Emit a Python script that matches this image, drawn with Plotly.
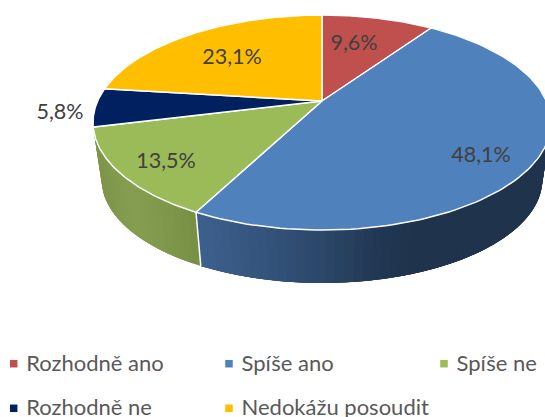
import numpy as np
import plotly.graph_objects as go

# --- data ---
categories = ["Rozhodně ano", "Spíše ano", "Spíše ne", "Rozhodně ne", "Nedokážu posoudit"]
values = [9.6, 48.1, 13.5, 5.8, 23.1]
value_labels = ["9,6%", "48,1%", "13,5%", "5,8%", "23,1%"]
colors = ["#C0504D", "#4F81BD", "#9BBB59", "#002060", "#FFBF00"]

# --- layout of the pseudo-3D pie (pixels on a 545x417 axis) ---
CX, CY = 322.0, 101.0
A, B, K = 224.4, 103.2, 0.2      # perspective projection of the disc
WALL_SCALE, WALL_SHIFT = 0.962, 57.9
label_x = [354, 481, 166, 60, 232]
label_y = [45, 157, 163, 114, 59]
legend_x = [13.7, 229, 444, 13.7, 229]
legend_y = [363.7, 363.7, 363.7, 408.3, 408.3]

wall_stops = {
    1: ([202, 260, 320, 380, 420, 545],
        [(61, 95, 140), (52, 84, 125), (44, 72, 106), (33, 55, 82), (31, 51, 76), (31, 51, 76)]),
    2: ([100, 130, 160, 200],
        [(126, 150, 75), (133, 158, 80), (128, 152, 76), (118, 142, 66)]),
}


def project(t_deg, r=1.0):
    t = np.radians(t_deg)
    u, v = r * np.sin(t), r * np.cos(t)
    d = 1 + K * v
    return A * u / d, B * v / d


def top_xy(t_deg):
    x, y = project(t_deg)
    return CX + x, CY - y


def bottom_xy(t_deg):
    x, y = project(t_deg)
    return CX + WALL_SCALE * x, CY - WALL_SCALE * y + WALL_SHIFT


def wall_color(i, x):
    xs, cs = wall_stops[i]
    rgb = [np.interp(x, xs, [c[k] for c in cs]) for k in range(3)]
    return "rgb(%d,%d,%d)" % tuple(int(round(c)) for c in rgb)


fig = go.Figure()
total = sum(values)
edges = np.concatenate([[0], np.cumsum(values)]) / total * 360

# side wall: overlapping strips, each strip runs on to the end of its section
for i in wall_stops:
    start, end = edges[i], edges[i + 1]
    steps = max(2, int((end - start) / 2.0))
    ts = np.linspace(start, end, steps + 1)
    for t0, t1 in zip(ts[:-1], ts[1:]):
        arc = np.linspace(t0, end if end - t0 < 8 else t0 + 8, 12)
        xa, ya = top_xy(arc)
        xb, yb = bottom_xy(arc)
        xs_mid, _ = top_xy((t0 + t1) / 2)
        col = wall_color(i, xs_mid)
        fig.add_trace(go.Scatter(x=np.concatenate([xa, xb[::-1], xa[:1]]),
                                 y=np.concatenate([ya, yb[::-1], ya[:1]]), mode="lines",
                                 fill="toself", fillcolor=col, line=dict(width=0),
                                 hoverinfo="skip", showlegend=False))

# white seam between the two visible wall sections
sx0, sy0 = top_xy(edges[2])
sx1, sy1 = bottom_xy(edges[2])
fig.add_trace(go.Scatter(x=[sx0, sx1], y=[sy0, sy1], mode="lines",
                         line=dict(color="white", width=1.5), hoverinfo="skip", showlegend=False))

# top face
for i, name in enumerate(categories):
    ts = np.linspace(edges[i], edges[i + 1], 120)
    xs, ys = top_xy(ts)
    fig.add_trace(go.Scatter(x=np.concatenate([[CX], xs, [CX]]), y=np.concatenate([[CY], ys, [CY]]),
                             mode="lines", fill="toself", fillcolor=colors[i],
                             line=dict(color="white", width=1.5), name=name, hoverinfo="skip",
                             showlegend=False))

# value labels
fig.add_trace(go.Scatter(x=label_x, y=label_y, mode="text", text=value_labels,
                         textposition="middle center",
                         textfont=dict(family="Lato", size=21.5, color="#404040"),
                         hoverinfo="skip", showlegend=False, cliponaxis=False))

# legend
fig.add_trace(go.Scatter(x=legend_x, y=legend_y, mode="markers",
                         marker=dict(symbol="square", size=7.5, color=colors, line=dict(width=0)),
                         hoverinfo="skip", showlegend=False))
fig.add_trace(go.Scatter(x=[x + 12.5 for x in legend_x], y=[y + 1.5 for y in legend_y], mode="text",
                         text=categories, textposition="middle right",
                         textfont=dict(family="Lato", size=22, color="#595959"),
                         hoverinfo="skip", showlegend=False, cliponaxis=False))

fig.update_layout(width=545, height=417, margin=dict(l=0, r=0, t=0, b=0),
                  paper_bgcolor="white", plot_bgcolor="white", showlegend=False,
                  xaxis=dict(range=[0, 545], visible=False, fixedrange=True),
                  yaxis=dict(range=[417, 0], visible=False, fixedrange=True))

fig.write_html("out.html", config={"displayModeBar": False},
               post_script="document.body.style.margin='0';document.body.style.overflow='hidden';")
